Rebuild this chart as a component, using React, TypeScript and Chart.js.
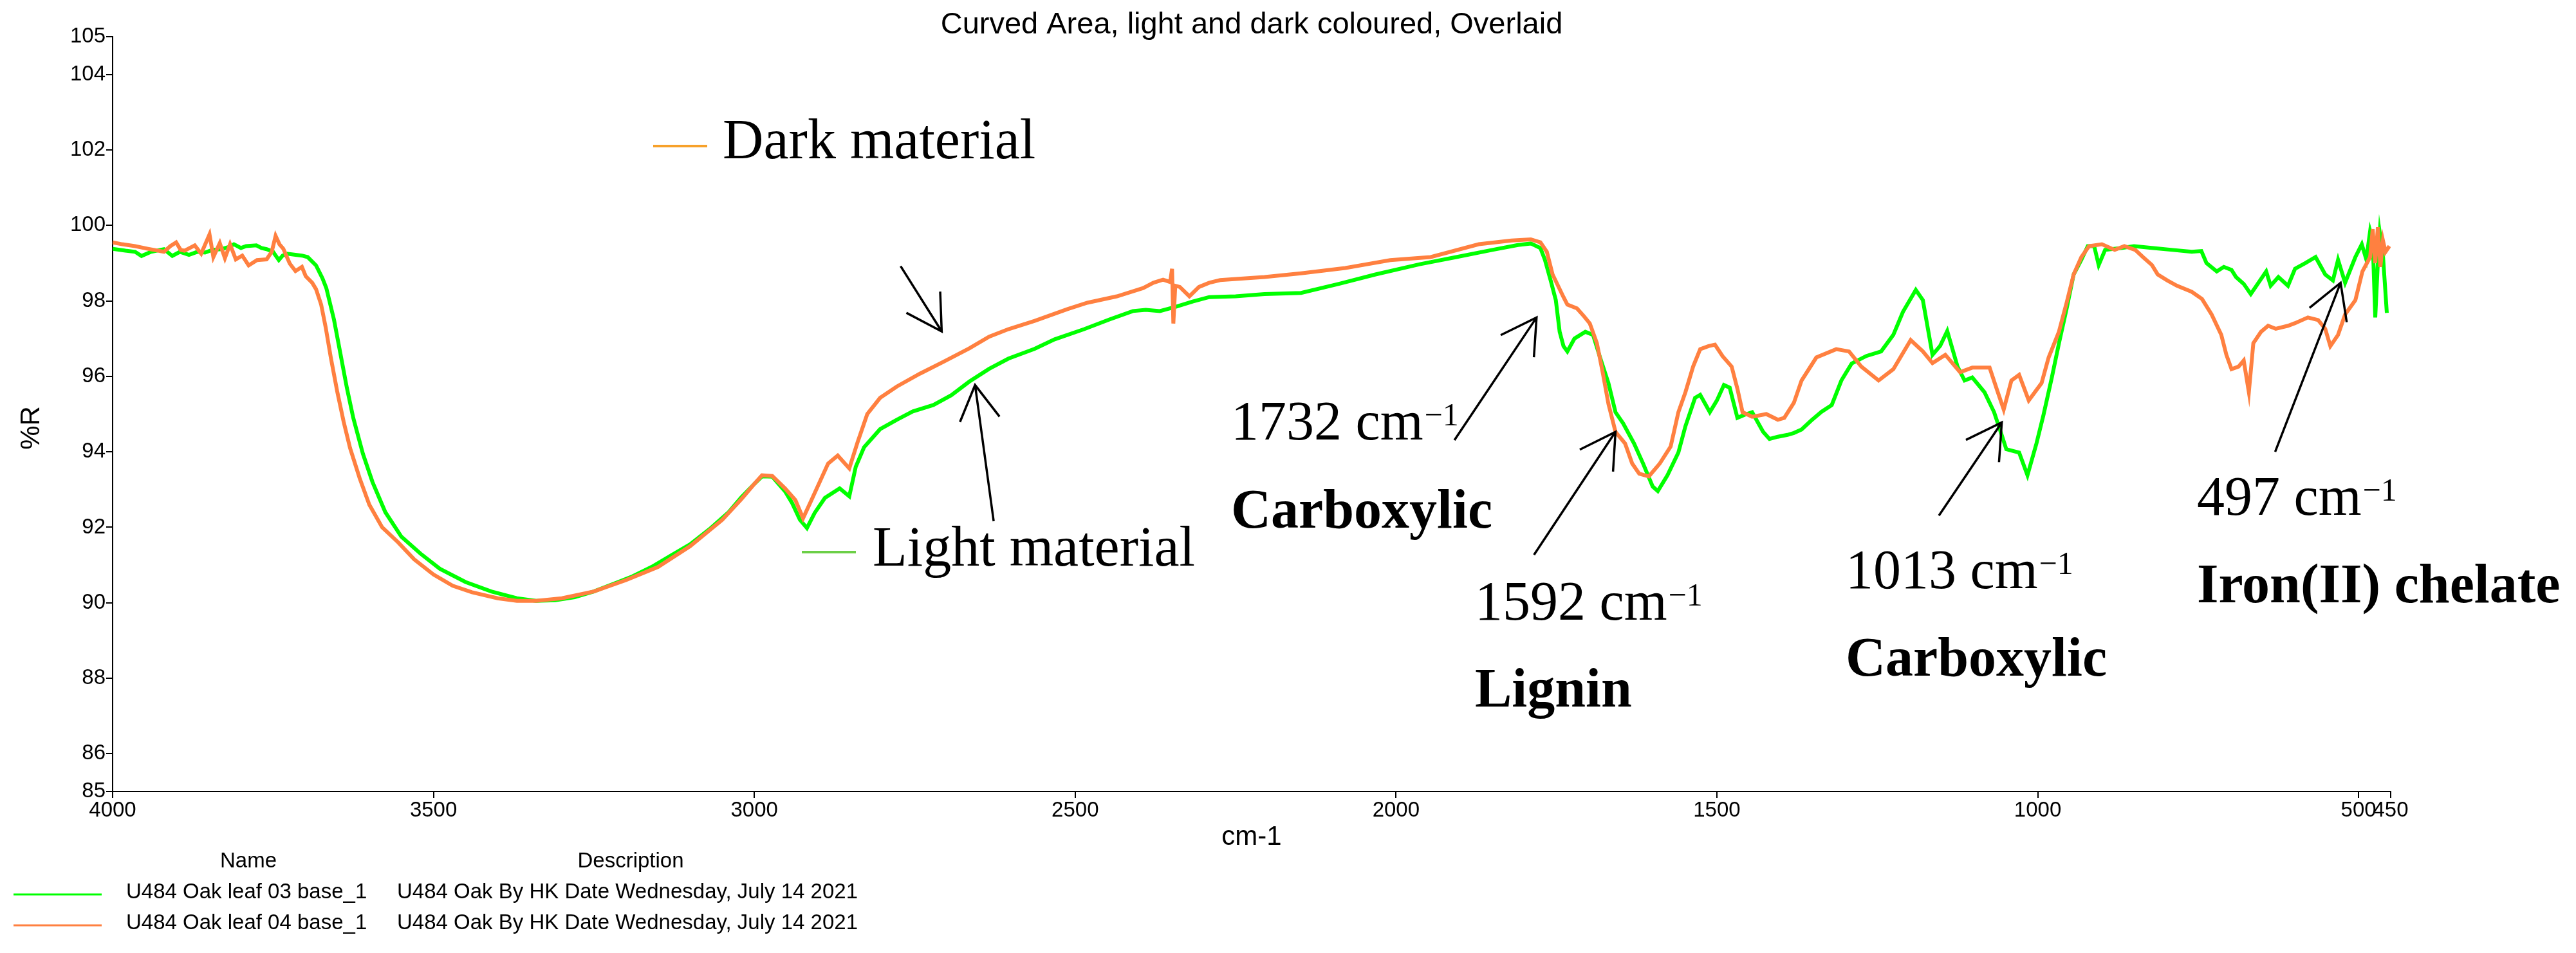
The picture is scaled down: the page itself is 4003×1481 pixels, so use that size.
import React, { useEffect, useRef } from 'react';
import { Chart, registerables } from 'chart.js';

Chart.register(...registerables);

const SANS = "'Liberation Sans', Arial, sans-serif";
const SERIF = "'Liberation Serif', 'Times New Roman', serif";

const chartTitle = 'Curved Area, light and dark coloured, Overlaid';
const xAxisTitle = 'cm-1';
const yAxisTitle = '%R';

const xTickValues = [4000, 3500, 3000, 2500, 2000, 1500, 1000, 500, 450];
const yTickValues = [85, 86, 88, 90, 92, 94, 96, 98, 100, 102, 104, 105];

// Light material (green) – U484 Oak leaf 03 base_1
const lightWavenumbers = [
  4000, 3980, 3965, 3955, 3940, 3920, 3907, 3895, 3881, 3868, 3856, 3845, 3831, 3820, 3811, 3800, 3792, 3776, 3768, 3760,
  3750, 3741, 3735, 3728, 3715, 3705, 3696, 3683, 3673, 3667, 3655, 3645, 3635, 3625, 3610, 3595, 3575, 3550, 3520, 3490,
  3450, 3410, 3370, 3340, 3310, 3280, 3250, 3220, 3190, 3160, 3130, 3100, 3070, 3040, 3020, 3000, 2988, 2972, 2952, 2941,
  2929, 2918, 2906, 2890, 2867, 2852, 2842, 2829, 2804, 2778, 2753, 2721, 2693, 2665, 2634, 2604, 2563, 2532, 2486, 2446,
  2410, 2390, 2368, 2342, 2317, 2291, 2250, 2205, 2148, 2089, 2032, 1963, 1906, 1850, 1810, 1790, 1775, 1768, 1759, 1751,
  1745, 1739, 1733, 1722, 1705, 1693, 1682, 1669, 1658, 1646, 1629, 1615, 1600, 1592, 1577, 1560, 1549, 1534, 1526, 1511,
  1500, 1489, 1480, 1468, 1457, 1445, 1428, 1418, 1405, 1390, 1380, 1368, 1353, 1337, 1321, 1306, 1290, 1267, 1244, 1225,
  1210, 1190, 1179, 1164, 1152, 1141, 1125, 1114, 1102, 1083, 1068, 1056, 1049, 1029, 1016, 1002, 991, 978, 967, 955,
  944, 932, 922, 912, 905, 895, 870, 850, 820, 790, 760, 745, 737, 721, 710, 698, 691, 679, 668, 656,
  644, 637, 625, 610, 599, 583, 567, 552, 540, 532, 521, 505, 495, 488, 482, 478, 474, 470, 467, 462,
  456,
];
const lightReflectance = [
  99.38, 99.33, 99.3, 99.19, 99.3, 99.37, 99.19, 99.3, 99.22, 99.3, 99.28, 99.35, 99.37, 99.42, 99.5, 99.4, 99.45, 99.47, 99.4, 99.37,
  99.3, 99.08, 99.2, 99.25, 99.22, 99.2, 99.16, 98.94, 98.6, 98.34, 97.5, 96.6, 95.7, 94.9, 93.95, 93.2, 92.4, 91.75, 91.3, 90.9,
  90.55, 90.3, 90.12, 90.05, 90.07, 90.15, 90.3, 90.5, 90.7, 90.95, 91.25, 91.55, 91.95, 92.4, 92.8, 93.15, 93.35, 93.34, 92.95, 92.64,
  92.2, 91.98, 92.38, 92.78, 93.03, 92.82, 93.6, 94.12, 94.6, 94.85, 95.07, 95.24, 95.5, 95.86, 96.2, 96.47, 96.73, 96.98, 97.25, 97.51,
  97.73, 97.76, 97.73, 97.85, 97.98, 98.1, 98.12, 98.18, 98.21, 98.45, 98.7, 98.97, 99.16, 99.35, 99.48, 99.52, 99.4, 99.09, 98.54, 98.02,
  97.18, 96.8, 96.66, 97.0, 97.18, 97.1, 96.5, 95.82, 95.05, 94.75, 94.22, 93.69, 93.08, 92.96, 93.38, 93.98, 94.68, 95.43, 95.51, 95.05,
  95.36, 95.77, 95.7, 94.9, 94.98, 95.05, 94.53, 94.34, 94.4, 94.45, 94.5, 94.59, 94.83, 95.06, 95.24, 95.89, 96.34, 96.54, 96.66, 97.1,
  97.71, 98.29, 98.02, 96.57, 96.81, 97.2, 96.26, 95.89, 95.97, 95.58, 95.05, 94.44, 94.07, 93.98, 93.38, 94.22, 94.98, 95.97, 96.87, 97.79,
  98.7, 99.09, 99.45, 99.45, 98.95, 99.35, 99.4, 99.45, 99.4, 99.35, 99.3, 99.32, 99.0, 98.78, 98.9, 98.82, 98.63, 98.45, 98.18, 98.48,
  98.78, 98.4, 98.63, 98.4, 98.85, 99.0, 99.16, 98.7, 98.54, 99.09, 98.48, 99.16, 99.5, 99.1, 99.85, 99.6, 97.56, 99.0, 99.8, 99.2,
  97.68,
];

// Dark material (orange) – U484 Oak leaf 04 base_1
const darkWavenumbers = [
  4000, 3985, 3965, 3945, 3920, 3910, 3901, 3894, 3888, 3872, 3862, 3849, 3843, 3833, 3825, 3817, 3808, 3798, 3788, 3775,
  3760, 3752, 3746, 3740, 3734, 3724, 3715, 3705, 3699, 3689, 3683, 3675, 3668, 3660, 3650, 3640, 3630, 3615, 3600, 3580,
  3555, 3530, 3500, 3470, 3440, 3400, 3370, 3340, 3300, 3250, 3200, 3150, 3100, 3050, 3020, 3000, 2988, 2972, 2952, 2936,
  2924, 2911, 2885, 2870, 2852, 2839, 2824, 2804, 2778, 2742, 2706, 2665, 2634, 2604, 2563, 2512, 2481, 2435, 2394, 2378,
  2363, 2352, 2349, 2347, 2344, 2337, 2322, 2307, 2291, 2274, 2205, 2148, 2079, 2009, 1946, 1871, 1820, 1790, 1775, 1765,
  1756, 1739, 1733, 1718, 1707, 1698, 1687, 1678, 1669, 1658, 1643, 1632, 1621, 1606, 1589, 1572, 1560, 1549, 1537, 1526,
  1513, 1503, 1491, 1477, 1468, 1460, 1445, 1423, 1405, 1395, 1380, 1368, 1345, 1314, 1294, 1275, 1248, 1225, 1198, 1179,
  1164, 1144, 1121, 1102, 1075, 1064, 1053, 1041, 1029, 1014, 994, 983, 967, 955, 944, 932, 920, 900, 880, 865,
  848, 836, 822, 813, 798, 783, 760, 744, 729, 714, 706, 698, 687, 679, 671, 664, 652, 641, 629, 610,
  599, 579, 563, 552, 544, 532, 521, 505, 494, 482, 478, 474, 470, 466, 462, 458, 452,
];
const darkReflectance = [
  99.55, 99.5, 99.45, 99.38, 99.3, 99.45, 99.55, 99.35, 99.33, 99.47, 99.25, 99.76, 99.16, 99.53, 99.13, 99.5, 99.1, 99.2, 98.94, 99.08,
  99.1, 99.3, 99.72, 99.5, 99.38, 98.99, 98.79, 98.9, 98.65, 98.48, 98.31, 97.9, 97.3, 96.5, 95.6, 94.8, 94.1, 93.3, 92.6, 92.0,
  91.6, 91.15, 90.75, 90.45, 90.28, 90.12, 90.05, 90.05, 90.12, 90.3, 90.6, 90.95, 91.5, 92.2, 92.75, 93.15, 93.38, 93.36, 93.03, 92.72,
  92.24, 92.72, 93.69, 93.9, 93.56, 94.26, 95.0, 95.43, 95.73, 96.07, 96.38, 96.74, 97.05, 97.25, 97.47, 97.78, 97.95, 98.12, 98.34, 98.48,
  98.56, 98.5, 98.85, 97.4, 98.4, 98.37, 98.12, 98.37, 98.48, 98.55, 98.63, 98.73, 98.87, 99.08, 99.16, 99.5, 99.6, 99.63, 99.55, 99.3,
  98.7, 98.1, 97.9, 97.8, 97.59, 97.4, 96.88, 96.11, 95.27, 94.53, 94.22, 93.69, 93.42, 93.35, 93.69, 94.14, 95.05, 95.58, 96.26, 96.72,
  96.8, 96.84, 96.53, 96.26, 95.67, 95.05, 94.93, 95.0, 94.85, 94.9, 95.3, 95.89, 96.5, 96.72, 96.66, 96.26, 95.89, 96.19, 96.96, 96.66,
  96.35, 96.57, 96.11, 96.23, 96.23, 95.67, 95.12, 95.89, 96.04, 95.36, 95.82, 96.5, 97.18, 97.95, 98.7, 99.16, 99.45, 99.5, 99.35, 99.45,
  99.35, 99.16, 98.95, 98.7, 98.54, 98.4, 98.24, 98.05, 97.64, 97.1, 96.57, 96.19, 96.26, 96.42, 95.58, 96.88, 97.18, 97.34, 97.26, 97.34,
  97.41, 97.56, 97.49, 97.26, 96.8, 97.1, 97.64, 98.02, 98.78, 99.16, 99.9, 99.0, 99.95, 98.9, 99.6, 99.3, 99.45,
];

const seriesNames = ['U484 Oak leaf 03 base_1', 'U484 Oak leaf 04 base_1'];
const seriesDescriptions = [
  'U484 Oak By HK Date Wednesday, July 14 2021',
  'U484 Oak By HK Date Wednesday, July 14 2021',
];
const seriesColors = ['#00ff00', '#ff8040'];

// Peak annotations: label, assignment, arrow tail and tip in (cm-1, %R)
const peakLabels = ['1732', '1592', '1013', '497'];
const peakAssignments = ['Carboxylic', 'Lignin', 'Carboxylic', 'Iron(II) chelate'];
const peakArrowTails = [[1909, 94.31], [1785, 91.27], [1154, 92.31], [630, 94.0]];
const peakArrowTips = [[1781, 97.56], [1658, 94.53], [1056, 94.78], [528, 98.48]];
const peakTextPos = [[1913, 683, 820], [2292, 963, 1098], [2868, 914, 1050], [3414, 800, 936]];

const materialArrowTails = [[2772, 98.92], [2627, 92.16]];
const materialArrowTips = [[2708, 97.19], [2656, 95.77]];

function drawArrow(ctx: CanvasRenderingContext2D, x1: number, y1: number, x2: number, y2: number) {
  const a = Math.atan2(y1 - y2, x1 - x2);
  const L = 62;
  const h = Math.PI / 6;
  ctx.beginPath();
  ctx.moveTo(x1, y1);
  ctx.lineTo(x2, y2);
  ctx.moveTo(x2 + L * Math.cos(a + h), y2 + L * Math.sin(a + h));
  ctx.lineTo(x2, y2);
  ctx.lineTo(x2 + L * Math.cos(a - h), y2 + L * Math.sin(a - h));
  ctx.stroke();
}

const overlayPlugin = {
  id: 'overlay',
  afterDraw(chart: any) {
    const ctx: CanvasRenderingContext2D = chart.ctx;
    const xs = chart.scales.x;
    const ys = chart.scales.y;
    const area = chart.chartArea;
    const cx = (area.left + area.right) / 2;
    ctx.save();
    ctx.fillStyle = '#000';
    ctx.textBaseline = 'alphabetic';

    // Title
    ctx.font = `47px ${SANS}`;
    ctx.textAlign = 'center';
    ctx.fillText(chartTitle, cx, 52);

    // Axis titles
    ctx.font = `42px ${SANS}`;
    ctx.fillText(xAxisTitle, cx, 1313);
    ctx.save();
    ctx.translate(61, 665);
    ctx.rotate(-Math.PI / 2);
    ctx.fillText(yAxisTitle, 0, 0);
    ctx.restore();

    // Legend table
    ctx.font = `33px ${SANS}`;
    ctx.textAlign = 'center';
    ctx.fillText('Name', 386, 1348);
    ctx.fillText('Description', 980, 1348);
    ctx.textAlign = 'left';
    const rowLine = [1390, 1438];
    const rowBase = [1396, 1444];
    for (let i = 0; i < seriesNames.length; i++) {
      ctx.strokeStyle = seriesColors[i];
      ctx.lineWidth = 3;
      ctx.beginPath();
      ctx.moveTo(21, rowLine[i]);
      ctx.lineTo(158, rowLine[i]);
      ctx.stroke();
      ctx.fillText(seriesNames[i], 196, rowBase[i]);
      ctx.fillText(seriesDescriptions[i], 617, rowBase[i]);
    }

    // Material labels
    ctx.lineWidth = 4;
    ctx.strokeStyle = '#f7a12a';
    ctx.beginPath();
    ctx.moveTo(1015, 227);
    ctx.lineTo(1099, 227);
    ctx.stroke();
    ctx.strokeStyle = '#6ccf47';
    ctx.beginPath();
    ctx.moveTo(1246, 858);
    ctx.lineTo(1330, 858);
    ctx.stroke();
    ctx.font = `88px ${SERIF}`;
    ctx.fillText('Dark material', 1123, 246);
    ctx.fillText('Light material', 1356, 879);

    // Arrows
    ctx.strokeStyle = '#000';
    ctx.lineWidth = 3.5;
    const allTails = materialArrowTails.concat(peakArrowTails);
    const allTips = materialArrowTips.concat(peakArrowTips);
    for (let i = 0; i < allTails.length; i++) {
      drawArrow(
        ctx,
        xs.getPixelForValue(allTails[i][0]),
        ys.getPixelForValue(allTails[i][1]),
        xs.getPixelForValue(allTips[i][0]),
        ys.getPixelForValue(allTips[i][1])
      );
    }

    // Peak labels
    for (let i = 0; i < peakLabels.length; i++) {
      const [px, by1, by2] = peakTextPos[i];
      ctx.font = `86px ${SERIF}`;
      const main = `${peakLabels[i]} cm`;
      ctx.fillText(main, px, by1);
      const w = ctx.measureText(main).width;
      ctx.font = `50px ${SERIF}`;
      ctx.fillText('\u22121', px + w + 2, by1 - 22);
      ctx.font = `bold 86px ${SERIF}`;
      ctx.fillText(peakAssignments[i], px, by2);
    }
    ctx.restore();
  },
};

export default function App() {
  const canvasRef = useRef<HTMLCanvasElement | null>(null);

  useEffect(() => {
    const canvas = canvasRef.current;
    if (!canvas) return;
    const lightData = lightWavenumbers.map((w, i) => ({ x: w, y: lightReflectance[i] }));
    const darkData = darkWavenumbers.map((w, i) => ({ x: w, y: darkReflectance[i] }));

    const chart = new Chart(canvas, {
      type: 'line',
      data: {
        datasets: [
          {
            label: seriesNames[0],
            data: lightData,
            borderColor: seriesColors[0],
            backgroundColor: seriesColors[0],
            borderWidth: 6,
            pointRadius: 0,
            tension: 0,
            order: 1,
          },
          {
            label: seriesNames[1],
            data: darkData,
            borderColor: seriesColors[1],
            backgroundColor: seriesColors[1],
            borderWidth: 6,
            pointRadius: 0,
            tension: 0,
            order: 0,
          },
        ],
      },
      options: {
        animation: false,
        responsive: false,
        devicePixelRatio: 1,
        layout: { padding: { left: 0, top: 57, right: 288, bottom: 0 } },
        plugins: {
          legend: { display: false },
          title: { display: false },
          tooltip: { enabled: false },
        },
        scales: {
          x: {
            type: 'linear',
            reverse: true,
            min: 450,
            max: 4000,
            afterBuildTicks: (scale: any) => {
              scale.ticks = xTickValues.map((v) => ({ value: v }));
            },
            afterFit: (scale: any) => {
              scale.height = 251;
            },
            ticks: {
              autoSkip: false,
              maxRotation: 0,
              minRotation: 0,
              padding: 0,
              color: '#000',
              font: { family: SANS, size: 33 },
              callback: (v: any) => String(v),
            },
            grid: {
              display: true,
              drawOnChartArea: false,
              drawTicks: true,
              tickLength: 10,
              color: '#000',
              lineWidth: 2,
            },
            border: { display: true, color: '#000', width: 2 },
          },
          y: {
            type: 'linear',
            min: 85,
            max: 105,
            afterBuildTicks: (scale: any) => {
              scale.ticks = yTickValues.map((v) => ({ value: v }));
            },
            afterFit: (scale: any) => {
              scale.width = 175;
            },
            ticks: {
              autoSkip: false,
              padding: 1,
              color: '#000',
              font: { family: SANS, size: 33 },
              callback: (v: any) => String(v),
            },
            grid: {
              display: true,
              drawOnChartArea: false,
              drawTicks: true,
              tickLength: 10,
              color: '#000',
              lineWidth: 2,
            },
            border: { display: true, color: '#000', width: 2 },
          },
        },
      },
      plugins: [overlayPlugin],
    });

    return () => {
      chart.destroy();
    };
  }, []);

  return (
    <div style={{ position: 'fixed', left: 0, top: 0, width: 4003, height: 1481, background: '#fff' }}>
      <canvas ref={canvasRef} width={4003} height={1481} style={{ display: 'block', width: 4003, height: 1481 }} />
    </div>
  );
}
